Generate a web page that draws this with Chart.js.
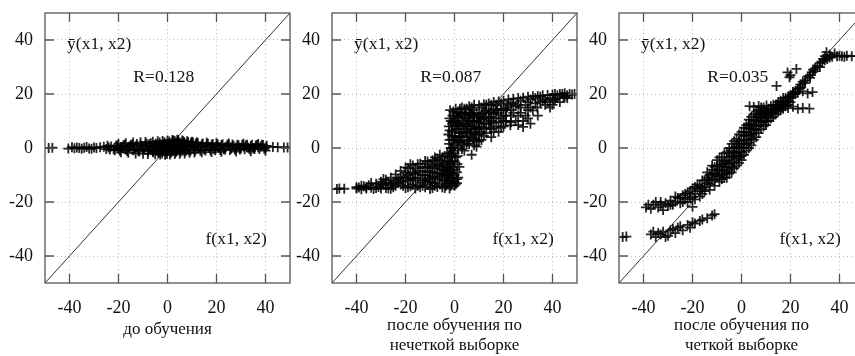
<!DOCTYPE html>
<html>
<head>
<meta charset="utf-8">
<script src="https://cdn.jsdelivr.net/npm/chart.js@4"></script>
<style>
  html, body { margin: 0; padding: 0; background: #fff; overflow: hidden; }
  #wrap { position: relative; width: 855px; height: 356px; overflow: hidden; }
  canvas { position: absolute; top: 0; }
</style>
</head>
<body>
<div id="wrap">
  <canvas id="c1" width="300" height="356" style="left:0px"></canvas>
  <canvas id="c2" width="295" height="356" style="left:290px"></canvas>
  <canvas id="c3" width="300" height="356" style="left:575px"></canvas>
</div>
<script>
// axis ticks, shared by all three panels
const tickValues = [-40, -20, 0, 20, 40];
const axisRange = [-50, 50];
const diagonal = [-50, 50];

// panel titles and labels
const panelTitles = [
    'до обучения',
    ['после обучения по', 'нечеткой выборке'],
    ['после обучения по', 'четкой выборке']
];
const rLabels = ['R=0.128', 'R=0.087', 'R=0.035'];
const yLabel = 'ȳ(x1, x2)';
const fLabel = 'f(x1, x2)';

// [f(x1,x2), y(x1,x2)] points
const beforePts = [
    [-48.5,0],[-47,0.1],[-40.5,-0.2],[-39,0.3],[-38,-0.1],[-37,0.2],[-36,0],[-35,-0.3],[-34,0.1],[-33,0.4],
    [-32,-0.2],[-29,0],[-26,0.5],[-25,-0.4],[-24,0.2],[-23,0.6],[-22,-0.5],[-21,0.8],[-20,-0.3],[-19,0.4],
    [-18,1.0],[-17,-0.6],[-16,0.3],[-15,1.1],[-14,-0.8],[-13,0.6],[-12,-1.0],[-11,1.2],[-10,-0.4],[-9,0.9],
    [-8,-1.2],[-7,0.5],[-6,-1.4],[-5,1.0],[-4.5,-0.8],[-4,0.3],[-3.5,-1.5],[-3,1.3],[-2.5,-0.2],[-2,-1.2],
    [-1.5,0.8],[-1,-0.6],[-0.5,1.5],[0,-1.0],[0.5,0.4],[1,1.8],[1.5,-0.9],[2,2.2],[2.5,0.6],[3,2.5],
    [3.5,-0.5],[4,1.9],[4.5,0.9],[5,2.0],[5.5,-0.3],[6,1.5],[6.5,0.4],[7,1.7],[7.5,-0.6],[8,1.2],
    [9,0.2],[10,1.4],[11,-0.5],[12,1.0],[13,0.3],[14,1.3],[15,-0.6],[16,0.8],[17,0.2],[18,1.2],
    [19,-0.4],[20,0.7],[21,0.1],[22,1.1],[23,-0.5],[24,0.6],[25,1.0],[26,-0.3],[27,0.8],[28,0.2],
    [29,1.0],[30,-0.2],[31,0.6],[32,1.0],[33,0.1],[34,0.7],[35,-0.2],[36,0.9],[37,0.3],[38,0.6],
    [39,1.1],[40,0.2],[40.5,0.8],[43,0.4],[45,0.3],[47.5,0.2],[49,0.2],
    [-9.5,-0.2],[-7.5,1.4],[-6.5,0.2],[-5.5,-0.5],[-2.8,0.4],[-1.8,1.6],[-0.8,-1.6],[0.2,0.9],[0.8,-0.3],
    [1.2,0.2],[1.8,1.1],[2.2,-1.2],[2.8,1.6],[3.2,0.1],[3.8,-1.1],[4.2,2.4],[5.2,0.5],[6.2,-0.9],[6.8,2.1],
    [7.8,0.8],[8.5,-0.8],[9.5,1.9],[10.5,0.5],[11.5,1.6],[12.5,-0.2],
    [-21.5,-0.8],[-20.5,0.9],[-19.5,-1.0],[-18.5,0.2],[-17.5,1.2],[-16.5,-1.1],[-15.5,0.5],[-14.5,1.3],[-13.5,-0.3],[-12.5,1.5],
    [-11.5,-1.3],[-10.5,0.7],[-8.5,1.6],[-7.8,-0.9],[-6.8,1.8],[-5.8,-1.6],[-4.8,1.6],[-3.8,-1.8],[-3.2,2.0],[-2.2,-2.0],
    [-1.2,2.1],[-0.2,-2.2],[0.7,2.4],[1.4,-1.8],[2.4,2.8],[3.4,-1.5],[4.4,2.9],[5.4,-1.4],[6.4,2.5],[7.4,-1.2],
    [8.4,2.2],[9.4,-1.0],[10.4,2.0],[11.4,-0.9],[12.4,1.8],[13.4,-1.0],[14.4,1.7],[15.5,-0.9],[16.5,1.6],[17.5,-0.8],
    [18.5,1.5],[19.5,-0.8],[20.5,1.4],[21.5,-0.7],[22.5,1.4],[23.5,-0.6],[24.5,1.3],[25.5,-0.7],[26.5,1.3],[27.5,-0.6],
    [28.5,1.2],[29.5,-0.6],[30.5,1.2],[31.5,-0.5],[32.5,1.2],[33.5,-0.5],[34.5,1.2],[35.5,-0.4],[36.5,1.1],[37.5,-0.4],
    [38.5,1.2],[39.5,-0.3],[-30,0.2],[-31,-0.3],[-27.5,0.3],[-24.5,0.8],[-23.5,-0.6],
    [-20,1.6],[-19,-1.6],[-17,1.8],[-16,-1.8],[-14,2.0],[-13,-2.0],[-11,2.1],[-10,-2.1],[-9,2.2],[-8,-2.2],
    [-6,2.3],[-5,-2.3],[-4,2.5],[-3,-2.4],[-2,2.6],[-1,-2.5],[0,2.8],[1,-2.4],[2,3.0],[3,-2.2],
    [4,3.1],[5,-2.1],[6,2.8],[7,-2.0],[8,2.5],[9,-1.8],[10,2.3],[11,-1.7],[12,2.1],[14,-1.6],
    [16,1.9],[18,-1.5],[20,1.8],[22,-1.4],[25,1.7],[28,-1.3],[31,1.6],[34,-1.2],[37,1.5],[40,-1.0]
];

const fuzzyPts = [
    [-48,-15.2],[-47,-15],[-45,-15.1],[-40,-15],[-39,-14.6],[-38,-15.3],[-37,-14.2],[-36,-15],[-35,-13.8],[-34,-14.7],
    [-33,-15.2],[-32,-13.2],[-31,-14.4],[-30,-12.5],[-30,-15],[-29,-13.6],[-28,-11.8],[-28,-14.8],[-27,-13],[-26,-11],
    [-26,-15.1],[-25,-12.5],[-24,-14],[-24,-9.8],[-23,-11.5],[-22,-13.5],[-22,-8.5],[-21,-10.8],[-20,-14.8],[-20,-7.2],
    [-19,-12],[-18,-9.5],[-18,-14.2],[-17,-6.5],[-16,-11.2],[-16,-15],[-15,-8.5],[-14,-12.8],[-14,-5.8],[-13,-10],
    [-12,-14.5],[-12,-7.4],[-11,-5],[-11,-11.5],[-10,-9],[-10,-15.2],[-9,-4.5],[-9,-12.8],[-8,-7.5],[-8,-10.5],
    [-7,-4],[-7,-14.4],[-6,-9.2],[-6,-6],[-5,-12],[-5,-3.5],[-4.5,-8],[-4,-14.8],[-4,-5.5],[-3.5,-10.5],
    [-3,-7],[-3,-13],[-2.5,-3],[-2,-12],[-2,-9],[-1.8,-6],[-1.5,-3],[-1.5,0],[-1.2,3],[-1,6],
    [-1,9],[-0.8,12],[-0.5,13.5],[-1.5,-14],[-0.5,-11],[0,-8],[0,-5],[0,-2],[0.2,1],[0.4,4],
    [0.5,7],[0.5,10],[0.8,13],[1,-13],[1,-9],[1.2,-6],[1.3,-3],[1.5,0],[1.6,2.5],[1.8,5.5],
    [2,8.5],[2,11.5],[2.2,14.5],[-2.2,1.5],[-2.5,5],[-2.3,8],[-2,11],[-1.8,14],
    [2.5,13],[3,15],[3,10],[3.5,6],[3.5,1],[4,12],[4,-1],[4.5,8],[5,14.5],[5,4],
    [5.5,11],[6,15.5],[6,1.5],[6.5,7],[7,12.5],[7,-2.5],[7.5,3.5],[8,16],[8,9.5],[8.5,5.5],
    [9,13],[9,0.5],[10,15.8],[10,7.5],[10.5,11],[11,3],[12,16.2],[12,9],[12.5,13.5],[13,5.5],
    [14,16.5],[14,11],[14.5,7.5],[15,13.5],[15,4],[16,17],[16,9.5],[17,14],[17.5,13.9],[18,17.2],
    [18,6],[19,11],[20,17.5],[20,8],[21,14],[21.5,15],[22,18],[22.8,8.4],[23,12],[24,18.2],
    [25,10],[25,15.5],[26,18.5],[27,13],[28,7.8],[28,18.6],[29,16],[30,19],[30,11],[31,18],
    [32,13.9],[32,19.2],[33.8,15],[34,19.3],[35,17],[36,19.5],[37,18],[38,19.6],[39,15],[40,19.7],
    [40.4,17.6],[41,20],[42,18.5],[43,20],[44.5,18.8],[45,20.3],[46,19.5],[47,20],[48,19.8],[49,20],
    [-12,-12],[-11,-8.5],[-10,-6],[-10,-12.5],[-9,-9],[-9,-14.8],[-8,-13],[-8,-5],[-7,-11.5],[-7,-7],
    [-6,-13.5],[-6,-4.5],[-5,-10],[-5,-6.5],[-5,-14.5],[-4,-12],[-4,-8.5],[-4,-3],[-3.5,-14],[-3,-10],
    [-3,-5],[-2.5,-12.5],[-2.5,-7.5],[-2,-15],[-2,-5],[-1.5,-11],[-1.5,-8],[-1,-13],[-1,-3],[-1,0],
    [-0.5,-7],[-0.5,3],[-0.5,9.5],[0,-12.5],[0,12],[0.5,-3.5],[1,7],[1,11],[1.5,-11],[1.5,9],
    [2,-7],[2,4],[2.5,8],[3,12.5],[3,4.5],[4,14.5],[4,7],[4.5,11],[5,1.5],[5,9],
    [6,13],[6,5],[7,8],[7,15],[8,12],[8,1],[9,10],[9,5],[10,12.5],[10,2.5],
    [11,15],[11,8],[12,11],[13,14],[13,9],[15,16],[15,10],[16,12.5],[17,8],[18,13],
    [19,16.5],[20,12],[21,10],[22,16],[23,16.8],[24,13],[26,16],[27,17.5],[29,12],[31,15],
    [33,18.5],[35,19],[37,16],[39,18.5],[41,18],[43,17],[45,19],
    [-40,-14.5],[-38,-14],[-36,-14.5],[-34,-13],[-32,-14.8],[-30,-13.8],[-28,-13],[-27,-15],[-25,-14.5],[-23,-13],
    [-21,-14],[-21,-12.5],[-19,-10],[-19,-14.5],[-17,-12],[-17,-9],[-15,-14],[-15,-11],[-13,-7],[-13,-14],
    [-12,-4.8],[-16,-7.5],[-18,-11.5],[-20,-11],[-22,-11],[-24,-12],[-26,-13.5],[-29,-11.5],
    [2.5,2],[2.5,5.5],[3,-0.5],[3.5,9],[4,3],[4.5,13],[5,6],[5.5,2.5],[5.5,8],[6,10],
    [6.5,12],[6.5,4],[7,6],[7.5,10],[7.5,14],[8,3],[8,7],[9,2.5],[9,7.5],[9.5,11.5],
    [10,5],[10,9.5],[11,6],[11,10.5],[11.5,13],[12,4.5],[12,7],[13,11.5],[13,16],[14,9],
    [14,13],[15,7],[15,11.5],[16,14.5],[16,6],[17,11],[17,16],[18,9.5],[19,14],[19,7.5],
    [20,10],[20,14.5],[21,12],[23,9.5],[23,14],[24,16.5],[26,12],[26,8.5],[27,15],[28,10],
    [30,14],[30,17],[31,9],[33,16.5],[34,12],[36,17.5],[38,17],[40,16],[42,19.5],[44,20],[46,18.5],
    [-20,-9],[-19,-7.5],[-18,-6],[-17,-13.5],[-16,-9.5],[-15,-6],[-14,-9],[-14,-14.5],[-13,-12],[-12,-10],
    [-11,-13.5],[-11,-7],[-10,-11],[-9,-6.5],[-9,-10.5],[-8,-14],[-8,-3.5],[-7,-9.5],[-6,-11],[-6,-2.5],
    [-5,-8],[-4,-10],[-3,-2],[-3,-8.5],[-2.5,-10],[-2,-2],[-1,-5],[-1,-9.5],[0,-10],[0,-14],
    [-0.5,-1],[0.5,-13.5],[1,-11.5],[1,2],[0,4.5],[0,8],[-1,4.5],[0.5,14.5],[-1.5,10],[1.5,13],
    [-2,6.5],[-2,3]
];

const crispPts = [
    [-48.5,-33],[-47,-32.8],
    [-37,-32],[-35,-33],[-33,-32],[-32,-31],[-30,-32.5],[-29,-30.5],[-27,-31.5],[-26,-29.5],
    [-24,-30.5],[-22,-28.5],[-21,-29.5],[-19,-28],[-17,-27],[-16,-26.5],[-14,-26],[-12,-25],[-11,-24.5],
    [-36,-31],[-34,-31.5],[-31,-33],[-28,-30],[-25,-29],[-20,-27.5],
    [-39,-22],[-38,-21],[-37,-22.5],[-35,-20],[-34,-22],[-33,-21],[-32,-23],[-31,-20.5],[-30,-21.5],[-29,-19.5],
    [-28,-21],[-27,-20],[-26,-18.5],[-25,-20.5],[-24,-17.5],[-23,-19],[-22,-16.5],[-21,-18.5],[-20,-21.8],[-20,-15],
    [-19,-14.4],[-19,-17],[-18,-13.5],[-17,-16],[-16,-12],[-15,-14.5],[-14,-11],[-13.6,-11.9],[-13,-13.5],[-12,-9.5],
    [-11,-12],[-10.9,-9.4],[-10,-8],[-9,-10.5],[-9,-6.5],[-8,-8.5],[-7,-5],[-7,-9.5],[-6.8,-5.7],[-6,-7],
    [-5,-3.5],[-5,-8],[-4,-1],[-4,-5],[-3,-3],[-3,0],[-2,-4],[-2,1.5],[-1,-1.5],[-1,2.5],
    [0,0],[0,3],[0,-3],[1,1.5],[1,4.5],[2,3],[2,6],[3,2],[3,7.5],[3.3,8.4],
    [4,5],[4,9],[5,7],[5,10.5],[6,8],[6,11.5],[7,10],[7,12.5],[8,11],[8,13.5],
    [9,9.5],[9,12.5],[10,13.3],[10.2,11.5],[11,14.5],[12,13],[12,15.5],[13,14.5],[14,16],[15,15],
    [15,17],[16,16.5],[17,17],[17,18.5],[18,17.5],[19,19],[20,18.5],[21,20],[22,21],[23,22],
    [23.8,22],[24,23.5],[25,24.5],[26,25],[27,26.5],[28,27],[29,28],[29.2,29],[30,29.5],[31,30.5],
    [32,31.5],[33,32],[33.3,33],[34,34],[34.7,35.5],[35,33],[36,34.5],[37,33.8],[38,35],[39,34],
    [40,34.2],[41,34],[42,33.8],[43,34.2],[45,34],[47,34],[49,34],
    [3.3,15.5],[5,15.2],[7,15.6],[9,15],[10.2,15.7],[17,15.7],[19,14.8],[21,15.3],[23,14.5],[25,14.8],
    [27.7,14.6],[21,20.7],[23,20.5],[25,21],[27,20.2],[29,20.7],[14.3,23],[19.6,26.2],[18.8,28],[22.4,29.3],[20,27],
    [-15,-12],[-14,-13],[-13,-10],[-12,-11.5],[-12,-8],[-11,-9.5],[-10,-10.5],[-10,-6.5],[-9,-8],[-8,-6],
    [-8,-10],[-7,-7],[-6,-4.5],[-6,-9],[-5,-6],[-5,-2],[-4,-3],[-4,-7],[-3,-1.5],[-3,-5.5],
    [-2,-2],[-2,0.5],[-1,0.5],[-1,-3.5],[0,1.5],[0,-1.5],[1,3],[1,0],[1,6],[2,1.5],
    [2,4.5],[3,5],[3,9],[4,3.5],[4,7],[5,5.5],[5,8.5],[6,6.5],[6,10],[7,8.5],
    [7,11.5],[8,9.5],[8,12.5],[9,11],[9,14],[10,10],[10,12.5],[11,12],[11,13.5],[12,14],
    [13,13],[13,16],[14,15],[14,14],[15,16],[16,15],[16,17.5],[17,16],[18,18.5],[18,16.5],
    [19,17.5],[20,19.5],[21,19],[22,20],[24,22.5],[26,24],[28,26],[30,28.5],[32,30],[34,32.5],
    [36,33.5],[-18,-15],[-17,-14],[-16,-15],[-21,-16],[-23,-17],[-25,-18.5],[-27,-18],[-29,-21],[-33,-20],
    [-36,-21],[-22,-20],[-24,-20],
    [-14,-9],[-12,-6.5],[-11,-7],[-10,-4.5],[-9,-3.5],[-8,-3.5],[-7,-2],[-6,-1.5],[-5,0],[-4,1.5],
    [-3,2.5],[-2,3.5],[-1,5],[0,6],[1,7.5],[2,8.5],[3,10.5],[4,11.5],[5,12.5],[6,13.5],
    [7,14],[8,15],[-13,-15.5],[-11,-14],[-9,-12.5],[-8,-11.5],[-7,-11],[-6,-11],[-5,-9.5],[-4,-9],
    [-3,-7.5],[-2,-6.5],[-1,-5.5],[0,-4.5],[1,-2.5],[2,-1],[3,0],[4,1],[5,3],[6,4],
    [7,5.5],[8,7],[9,8],[10,8.5],[11,10],[12,11],[13,11.5],[14,12.5],[15,13.5],[16,14],
    [17,14.5],[18,15.5],[19,16],[20,17],[-16,-17],[-17,-18],[-19,-19],[-20,-18],[-15,-16]
];

const serif = '"Liberation Serif", "DejaVu Serif", serif';

// gnuplot-like frame with inward ticks on all four sides, plus the text labels
const framePlugin = {
    id: 'frame',
    afterDraw(chart, args, opts) {
        const {ctx, chartArea: a, scales: {x, y}} = chart;
        ctx.save();
        ctx.strokeStyle = '#555';
        ctx.lineWidth = 1.3;
        ctx.beginPath();
        tickValues.forEach(v => {
            const px = x.getPixelForValue(v);
            ctx.moveTo(px, a.bottom); ctx.lineTo(px, a.bottom - 9);
            ctx.moveTo(px, a.top); ctx.lineTo(px, a.top + 9);
            const py = y.getPixelForValue(v);
            ctx.moveTo(a.left, py); ctx.lineTo(a.left + 9, py);
            ctx.moveTo(a.right, py); ctx.lineTo(a.right - 9, py);
        });
        ctx.stroke();
        ctx.strokeRect(a.left, a.top, a.right - a.left, a.bottom - a.top);

        ctx.fillStyle = '#111';
        ctx.font = '17.5px ' + serif;
        ctx.textBaseline = 'middle';
        ctx.textAlign = 'left';
        ctx.fillText(yLabel, x.getPixelForValue(-41), y.getPixelForValue(38.5));
        ctx.textAlign = 'center';
        ctx.fillText(opts.rText, x.getPixelForValue(-1.5), y.getPixelForValue(26.2));
        ctx.textAlign = 'right';
        ctx.fillText(fLabel, x.getPixelForValue(40.5), y.getPixelForValue(-34));
        ctx.restore();
    }
};

function makePanel(id, pts, idx, yWidth, padRight) {
    const axisCommon = {
        type: 'linear',
        min: axisRange[0],
        max: axisRange[1],
        afterBuildTicks: s => { s.ticks = tickValues.map(v => ({value: v})); },
        grid: { color: '#bbb', lineWidth: 1, drawTicks: false },
        border: { display: false, dash: [1, 3] },
        ticks: { color: '#111', font: { family: serif, size: 18 } }
    };
    return new Chart(document.getElementById(id), {
        type: 'scatter',
        data: {
            datasets: [
                {
                    data: pts.map(p => ({x: p[0], y: p[1]})),
                    pointStyle: 'cross',
                    pointRadius: 5,
                    borderColor: 'rgba(0,0,0,0.85)',
                    backgroundColor: 'rgba(0,0,0,0.85)',
                    pointBorderWidth: 1.8
                },
                {
                    data: diagonal.map(v => ({x: v, y: v})),
                    showLine: true,
                    pointRadius: 0,
                    borderColor: '#333',
                    borderWidth: 1
                }
            ]
        },
        options: {
            responsive: false,
            animation: false,
            events: [],
            layout: { padding: { top: 13, right: padRight, left: 0, bottom: 0 } },
            plugins: {
                legend: { display: false },
                tooltip: { enabled: false },
                frame: { rText: rLabels[idx] }
            },
            scales: {
                x: Object.assign({}, axisCommon, {
                    afterFit: s => { s.height = 73; s.paddingLeft = 0; s.paddingRight = 0; },
                    ticks: Object.assign({}, axisCommon.ticks, { padding: 14, maxRotation: 0 }),
                    title: {
                        display: true,
                        text: panelTitles[idx],
                        color: '#111',
                        font: { family: serif, size: 17, lineHeight: 1.18 },
                        padding: { top: 0, bottom: idx === 0 ? 16 : 0 }
                    }
                }),
                y: Object.assign({}, axisCommon, {
                    afterFit: s => { s.width = yWidth; s.paddingTop = 0; s.paddingBottom = 0; },
                    ticks: Object.assign({}, axisCommon.ticks, { padding: 12 })
                })
            }
        },
        plugins: [framePlugin]
    });
}

makePanel('c1', beforePts, 0, 45, 10);
makePanel('c2', fuzzyPts, 1, 42, 8);
makePanel('c3', crispPts, 2, 44, 11);
</script>
</body>
</html>
